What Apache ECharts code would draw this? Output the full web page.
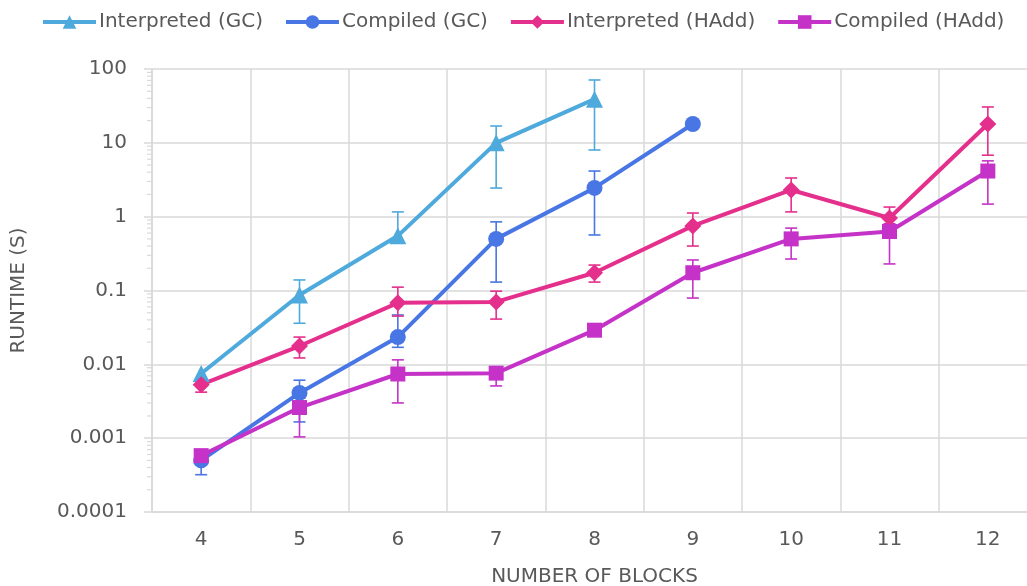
<!DOCTYPE html>
<html>
<head>
<meta charset="utf-8">
<script src="https://cdn.jsdelivr.net/npm/echarts@6/dist/echarts.min.js"></script>
<style>
  html, body { margin: 0; padding: 0; background: #ffffff; }
  #chart { width: 1027px; height: 586px; }
</style>
</head>
<body>
<div id="chart"></div>
<script>
// Block counts on the x axis
const categories = ['4', '5', '6', '7', '8', '9', '10', '11', '12'];
const yTickLabels = ['0.0001', '0.001', '0.01', '0.1', '1', '10', '100'];

// Mean runtimes (seconds)
const interpretedGC   = [0.0075, 0.087, 0.55, 10, 39, null, null, null, null];
const compiledGC      = [0.0005, 0.0041, 0.0234, 0.5, 2.45, 18, null, null, null];
const interpretedHAdd = [0.0053, 0.0177, 0.068, 0.070, 0.174, 0.75, 2.3, 0.96, 18];
const compiledHAdd    = [0.00058, 0.0026, 0.0074, 0.0076, 0.029, 0.174, 0.50, 0.63, 4.15];

// Error bar extents (low / high), null where no bar is drawn
const interpretedGCLow   = [null, 0.036, 0.45, 2.44, 8.0, null, null, null, null];
const interpretedGCHigh  = [null, 0.139, 1.16, 16.9, 71, null, null, null, null];
const compiledGCLow      = [0.00032, 0.00166, 0.017, 0.13, 0.565, null, null, null, null];
const compiledGCHigh     = [0.0006, 0.0061, 0.0466, 0.85, 4.15, null, null, null, null];
const interpretedHAddLow  = [0.0042, 0.0122, 0.045, 0.041, 0.130, 0.40, 1.16, 0.75, 6.8];
const interpretedHAddHigh = [0.0062, 0.0234, 0.111, 0.098, 0.221, 1.12, 3.34, 1.35, 30.6];
const compiledHAddLow     = [null, 0.00104, 0.0030, 0.0051, null, 0.079, 0.267, 0.229, 1.48];
const compiledHAddHigh    = [null, 0.0035, 0.0115, 0.009, null, 0.259, 0.70, 0.8, 5.7];

const COLORS = {
  interpretedGC: '#4ea9dc',
  compiledGC: '#4876e4',
  interpretedHAdd: '#e42f8c',
  compiledHAdd: '#c532c7'
};
const TEXT = '#595959';
const GRID_LINE = '#d9d9d9';
const FONT = '"DejaVu Sans", "Open Sans", sans-serif';
const FONT_SIZE = 20;

function errorData(low, high) {
  const out = [];
  low.forEach((lo, i) => {
    if (lo != null && high[i] != null) out.push([i, lo, high[i]]);
  });
  return out;
}

function errorSeries(name, color, low, high) {
  return {
    type: 'custom',
    name: name + ' error',
    data: errorData(low, high),
    encode: { x: 0, y: [1, 2] },
    clip: false,
    silent: true,
    z: 3,
    renderItem: function (params, api) {
      const idx = api.value(0);
      const lo = api.coord([idx, api.value(1)]);
      const hi = api.coord([idx, api.value(2)]);
      const hw = 6;
      const st = { stroke: color, lineWidth: 1.6 };
      return {
        type: 'group',
        children: [
          { type: 'line', shape: { x1: lo[0], y1: lo[1], x2: hi[0], y2: hi[1] }, style: st },
          { type: 'line', shape: { x1: lo[0] - hw, y1: lo[1], x2: lo[0] + hw, y2: lo[1] }, style: st },
          { type: 'line', shape: { x1: hi[0] - hw, y1: hi[1], x2: hi[0] + hw, y2: hi[1] }, style: st }
        ]
      };
    }
  };
}

function lineSeries(name, color, data, symbol, size) {
  return {
    type: 'line',
    name: name,
    data: data,
    symbol: symbol,
    symbolSize: size,
    showSymbol: true,
    connectNulls: false,
    z: 4,
    itemStyle: { color: color },
    lineStyle: { color: color, width: 4 },
    emphasis: { disabled: true }
  };
}

// Minor ticks of the log axis: 2..9 within each decade
const minorMultipliers = [2, 3, 4, 5, 6, 7, 8, 9];
const minorTickValues = [];
for (let e = -4; e < 2; e++) {
  minorMultipliers.forEach(m => minorTickValues.push([0, m * Math.pow(10, e)]));
}

const chart = echarts.init(document.getElementById('chart'), null, { renderer: 'canvas' });

chart.setOption({
  animation: false,
  backgroundColor: '#ffffff',
  textStyle: { fontFamily: FONT },
  legend: {
    top: 7,
    left: 36,
    itemWidth: 53,
    itemHeight: 17,
    itemGap: 21,
    lineStyle: { width: 4 },
    data: ['Interpreted (GC)', 'Compiled (GC)', 'Interpreted (HAdd)', 'Compiled (HAdd)'],
    textStyle: { color: TEXT, fontSize: FONT_SIZE, fontFamily: FONT, padding: [0, 0, 0, -2] }
  },
  grid: { left: 152, right: -10, top: 69, bottom: 74, containLabel: false, outerBoundsMode: 'none' },
  xAxis: {
    type: 'category',
    data: categories,
    boundaryGap: true,
    name: 'NUMBER OF BLOCKS',
    nameLocation: 'middle',
    nameGap: 55,
    nameTextStyle: { color: TEXT, fontSize: FONT_SIZE, fontFamily: FONT },
    axisLine: { show: true, lineStyle: { color: GRID_LINE, width: 1.5 } },
    axisTick: { show: false },
    axisLabel: { color: TEXT, fontSize: FONT_SIZE, margin: 18, fontFamily: FONT },
    splitLine: { show: true, lineStyle: { color: GRID_LINE, width: 1.5 } }
  },
  yAxis: {
    type: 'log',
    logBase: 10,
    min: 0.0001,
    max: 100,
    name: 'RUNTIME (S)',
    nameLocation: 'middle',
    nameGap: 123,
    nameTextStyle: { color: TEXT, fontSize: FONT_SIZE, fontFamily: FONT },
    axisLine: { show: true, lineStyle: { color: GRID_LINE, width: 1.5 } },
    axisTick: { show: true, length: 8, lineStyle: { color: GRID_LINE, width: 1.5 } },
    axisLabel: {
      color: TEXT, fontSize: FONT_SIZE, margin: 25, fontFamily: FONT,
      formatter: v => yTickLabels[Math.round(Math.log10(v)) + 4]
    },
    splitLine: { show: true, lineStyle: { color: GRID_LINE, width: 1.5 } }
  },
  series: [
    {
      type: 'custom',
      name: 'minor ticks',
      data: minorTickValues,
      encode: { x: 0, y: 1 },
      clip: false,
      silent: true,
      z: 1,
      renderItem: function (params, api) {
        const p = api.coord([0, api.value(1)]);
        const x0 = params.coordSys.x;
        return {
          type: 'line',
          shape: { x1: x0 - 5, y1: p[1], x2: x0, y2: p[1] },
          style: { stroke: GRID_LINE, lineWidth: 1.2 }
        };
      }
    },
    lineSeries('Interpreted (GC)', COLORS.interpretedGC, interpretedGC, 'triangle', 17),
    errorSeries('Interpreted (GC)', COLORS.interpretedGC, interpretedGCLow, interpretedGCHigh),
    lineSeries('Compiled (GC)', COLORS.compiledGC, compiledGC, 'circle', 16),
    errorSeries('Compiled (GC)', COLORS.compiledGC, compiledGCLow, compiledGCHigh),
    lineSeries('Interpreted (HAdd)', COLORS.interpretedHAdd, interpretedHAdd, 'diamond', 17),
    errorSeries('Interpreted (HAdd)', COLORS.interpretedHAdd, interpretedHAddLow, interpretedHAddHigh),
    lineSeries('Compiled (HAdd)', COLORS.compiledHAdd, compiledHAdd, 'rect', 15),
    errorSeries('Compiled (HAdd)', COLORS.compiledHAdd, compiledHAddLow, compiledHAddHigh)
  ]
});
</script>
</body>
</html>
